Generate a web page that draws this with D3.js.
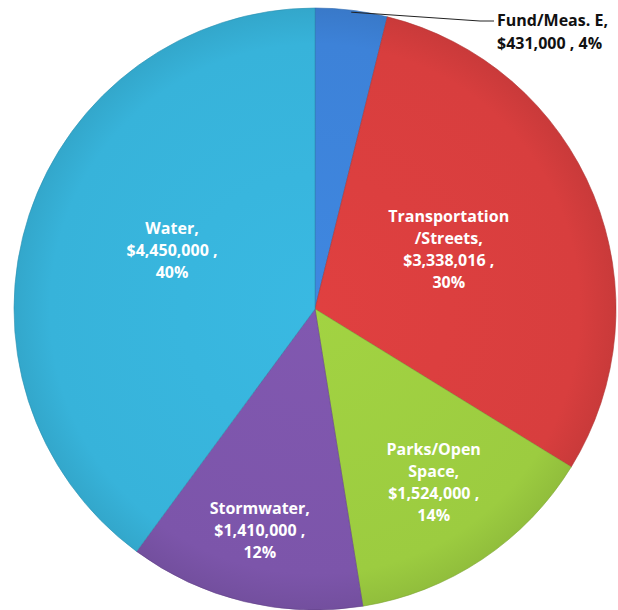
<!DOCTYPE html>
<html>
<head>
<meta charset="utf-8">
<script src="https://cdn.jsdelivr.net/npm/d3@7"></script>
<style>
  body { margin: 0; background: #fff; }
  svg { display: block; }
  text { font-family: "Open Sans", sans-serif; font-weight: 700; }
</style>
</head>
<body>
<div id="chart"></div>
<script>
var categories = ['Fund/Meas. E', 'Transportation/Streets', 'Parks/Open Space', 'Stormwater', 'Water'];
var amounts = [431000, 3338016, 1524000, 1410000, 4450000];
var percents = ['4%', '30%', '14%', '12%', '40%'];
var labelLines = [
    ['Fund/Meas. E,', '$431,000 , 4%'],
    ['Transportation', '/Streets,', '$3,338,016 ,', '30%'],
    ['Parks/Open', 'Space,', '$1,524,000 ,', '14%'],
    ['Stormwater,', '$1,410,000 ,', '12%'],
    ['Water,', '$4,450,000 ,', '40%']
];
var colors = ['#3d82d8', '#d83e3e', '#9ccc40', '#7c55aa', '#37b3da'];

var width = 618, height = 610;
var cx = 315, cy = 309, radius = 301;
var lineHeight = 22;

// how far out each inside label sits (fraction of radius) and a small vertical nudge
var labelK = [null, 0.48, 0.71, 0.78, 0.5];
var labelDy = [0, -4, -4, -6, -11];

var svg = d3.select('#chart').append('svg')
    .attr('width', width)
    .attr('height', height);

// gradients live in the slice group's coordinates (origin = pie centre)
var defs = svg.append('defs');
colors.forEach(function(c, i){
    var g = defs.append('radialGradient')
        .attr('id', 'grad' + i)
        .attr('gradientUnits', 'userSpaceOnUse')
        .attr('cx', 0).attr('cy', 0).attr('r', radius);
    g.append('stop').attr('offset', '0%').attr('stop-color', d3.color(c).brighter(0.1));
    g.append('stop').attr('offset', '88%').attr('stop-color', c);
    g.append('stop').attr('offset', '100%').attr('stop-color', d3.color(c).darker(0.2));
});

var pie = d3.pie().sort(null).value(function(d){ return d; });
var arcs = pie(amounts);

var arc = d3.arc().innerRadius(0).outerRadius(radius);

var g = svg.append('g').attr('transform', 'translate(' + cx + ',' + cy + ')');

g.selectAll('path.slice')
    .data(arcs)
    .enter()
    .append('path')
    .attr('class', 'slice')
    .attr('d', arc)
    .attr('fill', function(d, i){ return 'url(#grad' + i + ')'; })
    .attr('stroke', function(d, i){ return d3.color(colors[i]).darker(0.6); })
    .attr('stroke-width', 0.6);

// inside labels
arcs.forEach(function(d, i){
    if(labelK[i] === null) return;
    var r = radius * labelK[i];
    var pos = d3.arc().innerRadius(r).outerRadius(r).centroid(d);
    var lines = labelLines[i];
    var startY = pos[1] + labelDy[i] - (lines.length - 1) * lineHeight / 2 + 5;
    var t = g.append('text')
        .attr('text-anchor', 'middle')
        .attr('fill', '#ffffff')
        .attr('font-size', 16);
    lines.forEach(function(line, j){
        t.append('tspan')
            .attr('x', pos[0])
            .attr('y', startY + j * lineHeight)
            .text(line);
    });
});

// outside label with leader line for the small slice
var small = arcs[0];
var edge = d3.arc().innerRadius(radius - 2).outerRadius(radius - 2).centroid(small);
var elbowX = 480 - cx, elbowY = 21 - cy;
g.append('polyline')
    .attr('points', [edge, [elbowX, elbowY], [elbowX + 14, elbowY]].map(function(p){ return p.join(','); }).join(' '))
    .attr('fill', 'none')
    .attr('stroke', '#222')
    .attr('stroke-width', 1);

var outText = g.append('text')
    .attr('fill', '#111')
    .attr('font-size', 16)
    .attr('text-anchor', 'start');
labelLines[0].forEach(function(line, j){
    outText.append('tspan')
        .attr('x', elbowX + 17)
        .attr('y', elbowY + 5 + j * 23)
        .text(line);
});
</script>
</body>
</html>
